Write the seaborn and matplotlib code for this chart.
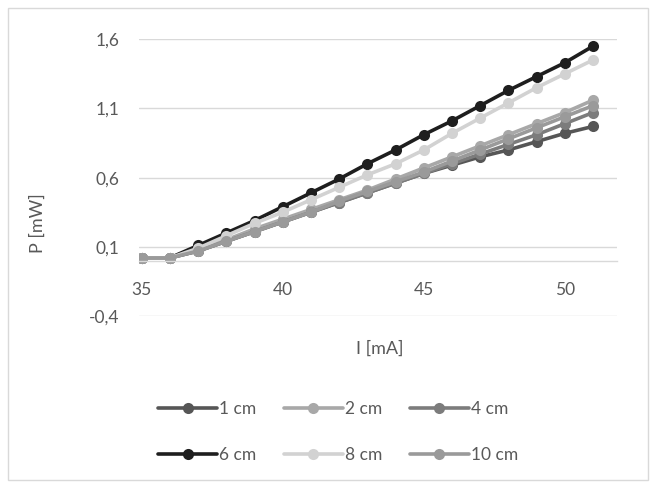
import matplotlib
matplotlib.use("Agg")
from matplotlib import pyplot as plt
from matplotlib.patches import Rectangle
from matplotlib.ticker import FuncFormatter
import seaborn as sns
import pandas as pd

current = list(range(35, 52))  # I [mA]

p_1cm = [0.02, 0.02, 0.07, 0.14, 0.21, 0.28, 0.35, 0.42, 0.49, 0.56, 0.63, 0.69, 0.75, 0.80, 0.86, 0.92, 0.97]
p_2cm = [0.02, 0.02, 0.08, 0.15, 0.23, 0.30, 0.37, 0.44, 0.51, 0.59, 0.67, 0.75, 0.83, 0.91, 0.99, 1.07, 1.16]
p_4cm = [0.02, 0.02, 0.07, 0.14, 0.21, 0.28, 0.35, 0.42, 0.49, 0.56, 0.63, 0.70, 0.77, 0.84, 0.91, 0.99, 1.07]
p_6cm = [0.02, 0.02, 0.11, 0.20, 0.29, 0.39, 0.49, 0.59, 0.70, 0.80, 0.91, 1.01, 1.12, 1.23, 1.33, 1.43, 1.55]
p_8cm = [0.02, 0.02, 0.09, 0.18, 0.27, 0.35, 0.44, 0.53, 0.62, 0.70, 0.80, 0.92, 1.03, 1.14, 1.25, 1.35, 1.45]
p_10cm = [0.02, 0.02, 0.07, 0.14, 0.21, 0.28, 0.35, 0.43, 0.50, 0.57, 0.64, 0.72, 0.80, 0.88, 0.96, 1.04, 1.12]

labels = ["1 cm", "2 cm", "4 cm", "6 cm", "8 cm", "10 cm"]
series = [p_1cm, p_2cm, p_4cm, p_6cm, p_8cm, p_10cm]
colors = ["#565656", "#a8a8a8", "#7c7c7c", "#1e1e1e", "#d2d2d2", "#9a9a9a"]

df = pd.concat([pd.DataFrame({"I": current, "P": vals, "d": lab}) for lab, vals in zip(labels, series)])

sns.set_style("white")
plt.rcParams["font.family"] = ["Lato", "DejaVu Sans"]

fig = plt.figure(figsize=(6.55, 4.84), dpi=100)
ax = fig.add_axes([0.212, 0.347, 0.73, 0.572])

sns.lineplot(data=df, x="I", y="P", hue="d", hue_order=labels, palette=colors,
             marker="o", markersize=8, markeredgewidth=0, linewidth=2.6, ax=ax, legend=True)

ax.set_xlim(34.9, 51.85)
ax.set_ylim(-0.4, 1.6)
ax.set_yticks([-0.4, 0.1, 0.6, 1.1, 1.6])
ax.set_xticks([35, 40, 45, 50])
ax.yaxis.set_major_formatter(FuncFormatter(lambda v, _: f"{v:.1f}".replace(".", ",")))
ax.grid(axis="y", color="#d9d9d9", linewidth=1)
ax.set_axisbelow(True)

for s in ["top", "right", "left"]:
    ax.spines[s].set_visible(False)
ax.spines["bottom"].set_position(("data", 0))
ax.spines["bottom"].set_color("#d9d9d9")
ax.spines["bottom"].set_linewidth(1)

ax.tick_params(axis="x", length=0, pad=15, labelsize=12.5, labelcolor="#595959")
ax.tick_params(axis="y", length=0, pad=14, labelsize=12.5, labelcolor="#595959")

ax.set_xlabel("I [mA]", fontsize=13, color="#595959")
ax.set_ylabel("P [mW]", fontsize=13, color="#595959")
ax.xaxis.set_label_coords(0.504, -0.087)
ax.yaxis.set_label_coords(-0.195, 0.336)

# legend filled row by row, like the original: matplotlib fills columns, so reorder
handles, labs = ax.get_legend_handles_labels()
ax.get_legend().remove()
order = [0, 3, 1, 4, 2, 5]
fig.legend([handles[i] for i in order], [labs[i] for i in order], loc="center",
           bbox_to_anchor=(0.516, 0.107), ncol=3, frameon=False,
           fontsize=12.5, labelcolor="#595959", handlelength=3.4, handletextpad=0.1,
           columnspacing=1.6, labelspacing=1.75)

fig.patches.append(Rectangle((8 / 655, 4 / 484), 640 / 655, 472 / 484, transform=fig.transFigure,
                             fill=False, edgecolor="#d9d9d9", linewidth=1))

plt.savefig("out.png", dpi=100)
